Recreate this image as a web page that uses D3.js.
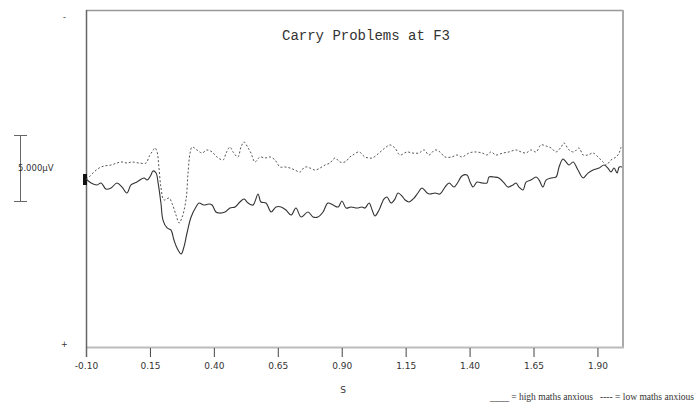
<!DOCTYPE html>
<html><head><meta charset="utf-8">
<script src="https://cdn.jsdelivr.net/npm/d3@7"></script>
<style>body{margin:0;background:#fff;} svg{display:block;}</style>
</head><body>
<script>
const title = "Carry Problems at F3";
const xTicks = [-0.10, 0.15, 0.40, 0.65, 0.90, 1.15, 1.40, 1.65, 1.90];
const xLabel = "S";
const scaleLabel = "5.000µV";
const legendText = "____ = high maths anxious   ---- = low maths anxious";

const highTime = [-0.100,-0.080,-0.057,-0.041,-0.022,-0.002,0.021,0.041,0.060,0.076,0.099,0.127,0.139,0.154,0.162,0.174,0.182,0.193,0.201,0.217,0.232,0.244,0.256,0.272,0.283,0.295,0.311,0.330,0.342,0.361,0.381,0.393,0.408,0.420,0.444,0.463,0.483,0.502,0.518,0.534,0.553,0.573,0.584,0.604,0.624,0.643,0.663,0.682,0.702,0.721,0.741,0.768,0.788,0.807,0.827,0.846,0.866,0.886,0.901,0.917,0.936,0.960,0.979,0.991,1.007,1.019,1.030,1.046,1.065,1.077,1.093,1.108,1.120,1.136,1.148,1.163,1.183,1.198,1.214,1.234,1.245,1.265,1.284,1.304,1.320,1.339,1.355,1.370,1.390,1.402,1.414,1.429,1.449,1.468,1.476,1.496,1.515,1.535,1.550,1.570,1.582,1.593,1.609,1.621,1.640,1.660,1.672,1.687,1.699,1.719,1.738,1.750,1.765,1.777,1.789,1.805,1.824,1.844,1.863,1.883,1.906,1.926,1.941,1.953,1.965,1.977,1.985,1.996];
const highValues = [0,0.30,0.45,0.30,0.76,0.68,0.30,0.61,1.06,0.45,0.23,-0.08,0.08,-0.30,-0.61,-0.45,0.30,1.82,3.11,3.71,3.86,4.62,5.23,5.68,5.15,4.09,2.88,2.12,1.82,1.97,1.89,1.97,2.50,2.58,2.50,2.20,2.12,1.74,1.52,1.82,1.97,1.14,1.74,1.82,2.50,2.12,2.12,2.35,2.73,2.20,2.88,2.50,2.88,2.88,2.50,1.82,1.97,2.12,1.67,2.20,2.12,2.20,2.12,2.20,1.82,2.35,2.80,2.35,1.52,1.36,1.82,1.52,1.06,1.29,1.59,1.74,1.44,1.06,0.68,1.06,1.14,1.06,1.14,0.61,0.30,0.61,0.23,-0.23,-0.30,0.23,0.61,0.23,0.30,0.30,-0.15,-0.15,-0.08,0.30,0.61,0.45,0.30,0.61,0.83,0.23,0.08,-0.15,0.08,0.61,0.08,-0.08,-0.15,-0.91,-1.52,-1.29,-1.06,-1.29,-0.68,-0.08,-0.45,-0.68,-0.83,-1.06,-0.83,-0.53,-0.83,-0.45,-0.91,-0.91];

const lowTime = [-0.100,-0.088,-0.069,-0.049,-0.030,-0.002,0.021,0.041,0.060,0.080,0.107,0.135,0.146,0.158,0.170,0.178,0.185,0.193,0.205,0.225,0.236,0.252,0.264,0.275,0.291,0.299,0.307,0.315,0.334,0.354,0.373,0.393,0.412,0.436,0.448,0.463,0.475,0.494,0.506,0.518,0.534,0.545,0.561,0.580,0.600,0.620,0.639,0.659,0.678,0.698,0.717,0.737,0.756,0.776,0.796,0.815,0.835,0.854,0.874,0.893,0.913,0.932,0.944,0.968,0.991,1.019,1.046,1.069,1.089,1.108,1.128,1.155,1.175,1.202,1.222,1.241,1.265,1.284,1.304,1.331,1.351,1.370,1.398,1.421,1.449,1.468,1.484,1.503,1.531,1.554,1.582,1.601,1.621,1.640,1.660,1.679,1.699,1.719,1.738,1.758,1.769,1.789,1.808,1.828,1.844,1.863,1.883,1.902,1.922,1.934,1.953,1.973,1.985,1.992];
const lowValues = [0,-0.15,-0.53,-0.83,-0.98,-1.06,-1.21,-1.29,-1.21,-1.29,-1.21,-1.21,-1.67,-2.05,-2.35,-2.05,-0.91,0.61,1.59,1.44,1.82,2.73,3.33,2.95,1.59,-0.45,-1.97,-2.42,-2.20,-1.97,-2.20,-2.05,-1.67,-1.44,-1.97,-2.42,-2.05,-1.67,-2.42,-2.80,-2.35,-1.97,-1.29,-1.67,-1.59,-1.67,-1.44,-0.91,-0.91,-0.83,-0.68,-0.53,-0.91,-0.83,-0.68,-0.83,-1.06,-1.21,-1.59,-1.29,-1.29,-1.67,-1.82,-2.05,-1.67,-1.59,-1.97,-2.35,-2.58,-2.35,-1.82,-2.05,-1.97,-1.97,-2.20,-1.82,-2.20,-2.05,-1.67,-1.67,-1.82,-1.67,-1.97,-2.05,-1.97,-1.82,-2.05,-1.82,-1.97,-2.05,-2.20,-2.05,-1.97,-2.20,-2.05,-2.58,-2.50,-2.35,-2.05,-2.42,-2.73,-2.20,-2.05,-2.35,-1.82,-1.82,-1.97,-1.67,-1.29,-1.06,-1.44,-1.67,-1.97,-2.42];

const W = 698, H = 404;
const svg = d3.select("body").append("svg").attr("width", W).attr("height", H);

const x = d3.scaleLinear().domain([-0.1, 2.0]).range([86, 623]);
const y = d3.scaleLinear().domain([-12.8, 12.8]).range([10, 348]);

// frame
svg.append("line").attr("x1", 86).attr("x2", 623).attr("y1", 10.5).attr("y2", 10.5).attr("stroke", "#999").attr("stroke-width", 1.5);
svg.append("line").attr("x1", 623).attr("x2", 623).attr("y1", 10).attr("y2", 348).attr("stroke", "#aaa").attr("stroke-width", 2);
svg.append("line").attr("x1", 86).attr("x2", 624).attr("y1", 347.5).attr("y2", 347.5).attr("stroke", "#bbb").attr("stroke-width", 2);

// x axis
const xAxis = d3.axisBottom(x).tickValues(xTicks).tickSize(9).tickPadding(6)
  .tickFormat(d => d.toFixed(2));
const gx = svg.append("g").attr("transform", "translate(0,348)").call(xAxis);
gx.select(".domain").remove();
gx.selectAll(".tick line").attr("stroke", "#444");
gx.selectAll(".tick text").attr("font-family", "DejaVu Sans, sans-serif").attr("font-size", 9).attr("fill", "#333");

// left axis
svg.append("line").attr("x1", 86.5).attr("x2", 86.5).attr("y1", 10).attr("y2", 357).attr("stroke", "#666").attr("stroke-width", 1.5);

// zero marker
svg.append("rect").attr("x", 83).attr("y", y(0) - 5).attr("width", 4).attr("height", 11).attr("fill", "#111");

// polarity labels
svg.append("text").attr("x", 63).attr("y", 20).attr("font-family", "DejaVu Sans, sans-serif").attr("font-size", 8).attr("fill", "#333").text("-");
svg.append("text").attr("x", 61).attr("y", 347).attr("font-family", "DejaVu Sans, sans-serif").attr("font-size", 8).attr("fill", "#333").text("+");

// scale bar 5 µV
const barTop = 135, barLen = y(5) - y(0);
svg.append("line").attr("x1", 20.5).attr("x2", 20.5).attr("y1", barTop).attr("y2", barTop + barLen).attr("stroke", "#666");
svg.append("line").attr("x1", 14).attr("x2", 27).attr("y1", barTop + 0.5).attr("y2", barTop + 0.5).attr("stroke", "#666");
svg.append("line").attr("x1", 14).attr("x2", 27).attr("y1", barTop + barLen + 0.5).attr("y2", barTop + barLen + 0.5).attr("stroke", "#666");
svg.append("text").attr("x", 18).attr("y", 171).attr("font-family", "DejaVu Sans, sans-serif").attr("font-size", 8.5).attr("fill", "#333").text(scaleLabel);

// lines
const line = d3.line().x(d => x(d[0])).y(d => y(d[1])).curve(d3.curveCatmullRom);
const highData = highTime.map((t, i) => [t, highValues[i]]);
const lowData = lowTime.map((t, i) => [t, lowValues[i]]);
svg.append("path").datum(lowData).attr("d", line).attr("fill", "none").attr("stroke", "#555").attr("stroke-width", 1).attr("stroke-dasharray", "2,2");
svg.append("path").datum(highData).attr("d", line).attr("fill", "none").attr("stroke", "#333").attr("stroke-width", 1.1);

// title
svg.append("text").attr("x", 366).attr("y", 40).attr("text-anchor", "middle")
  .attr("font-family", "Liberation Mono, Courier New, monospace").attr("font-size", 14).attr("fill", "#333").text(title);

// x label
svg.append("text").attr("x", 343).attr("y", 393).attr("text-anchor", "middle")
  .attr("font-family", "DejaVu Sans, sans-serif").attr("font-size", 9).attr("fill", "#333").text(xLabel);

// legend
svg.append("text").attr("x", 694).attr("y", 400).attr("text-anchor", "end")
  .attr("font-family", "Liberation Serif, Times New Roman, serif").attr("font-size", 9.5).attr("fill", "#333")
  .attr("xml:space", "preserve").style("white-space", "pre").text(legendText);
</script>
</body></html>
